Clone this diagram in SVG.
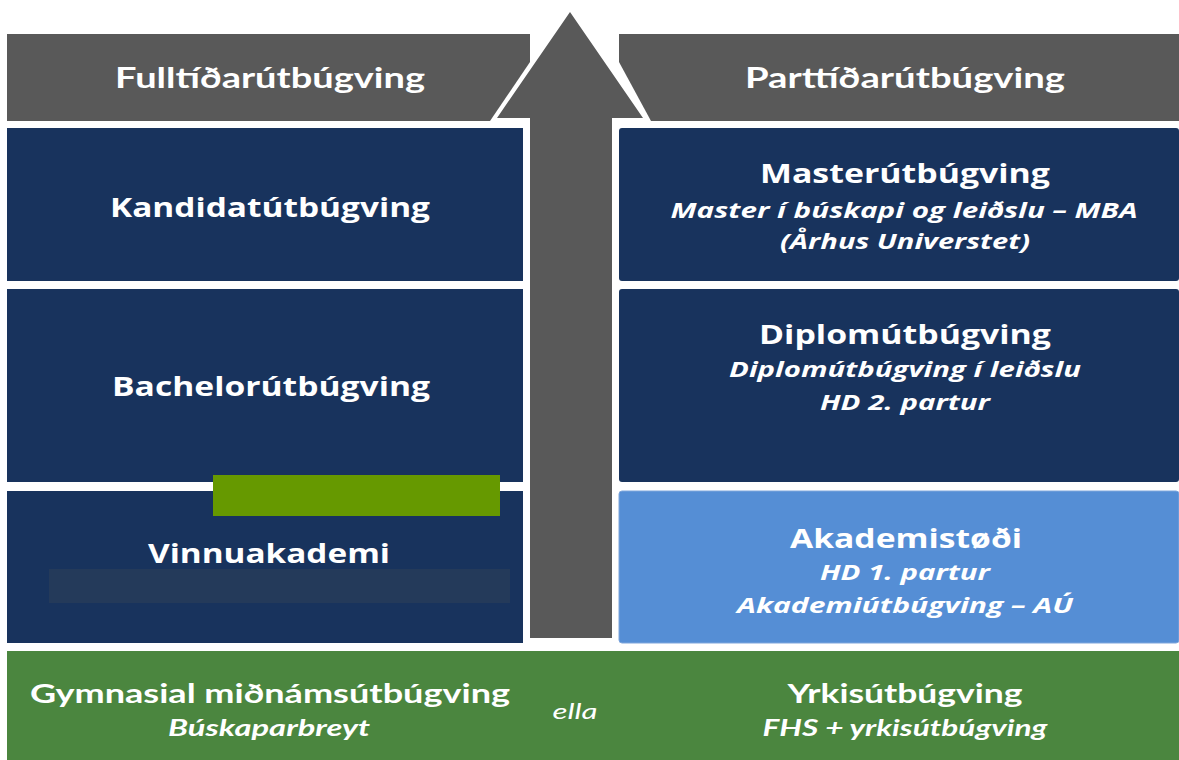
<svg xmlns="http://www.w3.org/2000/svg" width="1179" height="760" viewBox="0 0 1179 760">
<style>
.dark{fill:#18335d;}
.gray{fill:#595959;}
.h{font-family:"Open Sans","DejaVu Sans",sans-serif;font-weight:700;fill:#ffffff;text-anchor:middle;}
.s{font-family:"Open Sans","DejaVu Sans",sans-serif;font-weight:700;font-style:italic;fill:#ffffff;text-anchor:middle;}
.c{font-family:Lato,"Liberation Sans",sans-serif;font-weight:700;fill:#ffffff;text-anchor:middle;}
.ci{font-family:Lato,"Liberation Sans",sans-serif;font-weight:700;font-style:italic;fill:#ffffff;text-anchor:middle;}
.cr{font-family:Lato,"Liberation Sans",sans-serif;font-weight:400;font-style:italic;fill:#ffffff;text-anchor:middle;}
</style>
<rect width="1179" height="760" fill="#ffffff"/>
<g id="header-left">
<path class="gray" d="M7,34 L530,34 L530,62 L490,121 L7,121 Z"/>
<text class="c" x="270" y="88" font-size="28" textLength="310" lengthAdjust="spacingAndGlyphs">Fulltíðarútbúgving</text>
</g>
<g id="header-right">
<path class="gray" d="M619,34 L1179,34 L1179,121 L651,121 L619,62 Z"/>
<text class="c" x="905" y="88" font-size="28" textLength="320" lengthAdjust="spacingAndGlyphs">Parttíðarútbúgving</text>
</g>
<g id="connectors">
<path class="gray" d="M570,12 L643,118 L612,118 L612,638 L530,638 L530,118 L497,118 Z"/>
</g>
<g id="kandidat">
<rect class="dark" x="7" y="128" width="516" height="153"/>
<text class="h" x="270" y="217" font-size="27" textLength="320" lengthAdjust="spacingAndGlyphs">Kandidatútbúgving</text>
</g>
<g id="bachelor">
<rect class="dark" x="7" y="289" width="516" height="193"/>
<text class="h" x="271" y="396" font-size="27" textLength="318" lengthAdjust="spacingAndGlyphs">Bachelorútbúgving</text>
</g>
<g id="vinnuakademi">
<rect class="dark" x="7" y="491" width="516" height="152"/>
<rect x="213" y="475" width="287" height="41" fill="#669900"/>
<text class="h" x="269" y="563" font-size="27" textLength="242" lengthAdjust="spacingAndGlyphs">Vinnuakademi</text>
<rect x="49" y="569" width="461" height="34" fill="#243a5a"/>
</g>
<g id="master">
<rect class="dark" x="619" y="128" width="560" height="153" rx="3"/>
<text class="h" x="905" y="183" font-size="27" textLength="290" lengthAdjust="spacingAndGlyphs">Masterútbúgving</text>
<text class="s" x="904" y="218" font-size="21" textLength="467" lengthAdjust="spacingAndGlyphs">Master í búskapi og leiðslu – MBA</text>
<text class="s" x="905" y="249" font-size="21" textLength="250" lengthAdjust="spacingAndGlyphs">(Århus Universtet)</text>
</g>
<g id="diplom">
<rect class="dark" x="619" y="289" width="560" height="193" rx="3"/>
<text class="h" x="905" y="344" font-size="27" textLength="292" lengthAdjust="spacingAndGlyphs">Diplomútbúgving</text>
<text class="s" x="905" y="377" font-size="21" textLength="352" lengthAdjust="spacingAndGlyphs">Diplomútbúgving í leiðslu</text>
<text class="s" x="905" y="410" font-size="21" textLength="170" lengthAdjust="spacingAndGlyphs">HD 2. partur</text>
</g>
<g id="akademistodi">
<rect x="619" y="491" width="560" height="152" rx="3" fill="#558ed5" stroke="#7fa6dc" stroke-width="1"/>
<text class="h" x="906" y="548" font-size="27" textLength="232" lengthAdjust="spacingAndGlyphs">Akademistøði</text>
<text class="s" x="905" y="580" font-size="21" textLength="170" lengthAdjust="spacingAndGlyphs">HD 1. partur</text>
<text class="s" x="905" y="613" font-size="21" textLength="336" lengthAdjust="spacingAndGlyphs">Akademiútbúgving – AÚ</text>
</g>
<g id="base">
<rect x="7" y="651" width="1172" height="109" fill="#4b863f"/>
<text class="c" x="270" y="703" font-size="27" textLength="480" lengthAdjust="spacingAndGlyphs">Gymnasial miðnámsútbúgving</text>
<text class="ci" x="269" y="736" font-size="22" textLength="202" lengthAdjust="spacingAndGlyphs">Búskaparbreyt</text>
<text class="cr" x="575" y="719" font-size="22" textLength="45" lengthAdjust="spacingAndGlyphs">ella</text>
<text class="c" x="905" y="703" font-size="27" textLength="235" lengthAdjust="spacingAndGlyphs">Yrkisútbúgving</text>
<text class="ci" x="905" y="736" font-size="22" textLength="285" lengthAdjust="spacingAndGlyphs">FHS + yrkisútbúgving</text>
</g>
</svg>
